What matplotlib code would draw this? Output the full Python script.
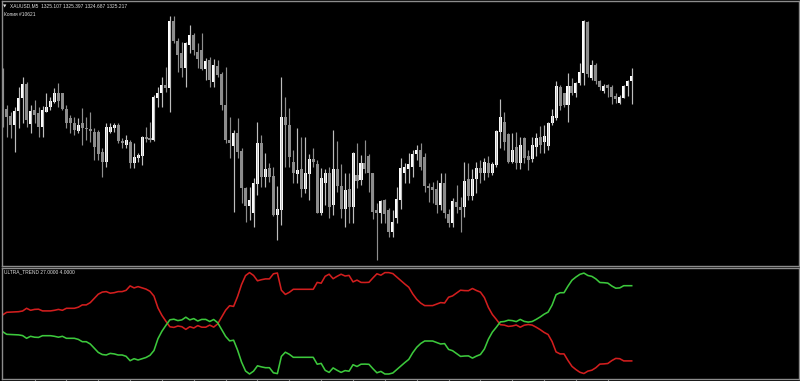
import numpy as np
import matplotlib
matplotlib.use("Agg")
import matplotlib.pyplot as plt

# ---- data (XAUUSD M5 candles) ----
opens = [1325.50, 1322.27, 1321.60, 1320.70, 1322.13, 1323.37, 1324.80, 1320.80, 1322.20, 1321.93,
         1320.47, 1322.03, 1322.47, 1323.03, 1323.87, 1323.87, 1322.27, 1321.37, 1320.87, 1320.13,
         1320.87, 1320.43, 1320.27, 1320.03, 1320.03, 1318.03, 1317.03, 1320.03, 1320.37, 1320.70,
         1319.10, 1318.70, 1319.03, 1316.93, 1317.37, 1317.60, 1319.53, 1319.37, 1319.20, 1323.37,
         1323.87, 1324.70, 1324.37, 1331.13, 1329.13, 1327.87, 1326.37, 1328.70, 1329.70, 1328.03,
         1328.20, 1326.27, 1327.20, 1325.03, 1326.60, 1325.80, 1322.70, 1319.20, 1318.60, 1319.93,
         1318.13, 1314.37, 1312.60, 1311.93, 1314.80, 1318.87, 1315.47, 1316.37, 1315.60, 1311.70,
         1312.20, 1321.53, 1320.70, 1317.03, 1315.80, 1316.27, 1314.27, 1315.80, 1317.27, 1316.80,
         1311.87, 1314.93, 1315.93, 1312.70, 1316.27, 1314.60, 1312.27, 1314.27, 1312.47, 1315.70,
         1315.20, 1316.93, 1317.60, 1315.87, 1312.20, 1311.87, 1313.20, 1312.20, 1310.03, 1311.37,
         1313.20, 1315.93, 1316.27, 1316.47, 1317.80, 1318.20, 1317.53, 1314.60, 1314.53, 1314.27,
         1312.70, 1314.93, 1311.80, 1310.87, 1313.03, 1312.53, 1312.53, 1315.27, 1313.60, 1315.27,
         1316.37, 1315.87, 1316.93, 1315.87, 1316.70, 1320.03, 1321.03, 1319.80, 1317.03, 1318.53,
         1316.93, 1319.37, 1317.60, 1317.27, 1318.53, 1319.53, 1319.03, 1318.60, 1320.87, 1321.37,
         1324.53, 1323.87, 1322.70, 1324.60, 1323.87, 1324.93, 1325.87, 1331.03, 1325.37, 1326.70,
         1325.13, 1324.13, 1324.70, 1324.53, 1323.60, 1322.87, 1323.37, 1324.60, 1325.13]

highs = [1326.40, 1322.70, 1322.03, 1322.53, 1324.47, 1325.53, 1325.03, 1322.70, 1323.20, 1322.53,
         1322.60, 1323.87, 1323.47, 1324.37, 1324.93, 1323.87, 1322.70, 1321.70, 1321.53, 1321.37,
         1322.37, 1321.53, 1322.03, 1320.37, 1320.20, 1318.37, 1320.87, 1320.93, 1320.87, 1320.87,
         1319.37, 1319.70, 1319.20, 1318.87, 1317.87, 1319.60, 1320.53, 1321.03, 1323.70, 1324.53,
         1325.53, 1326.53, 1331.60, 1331.60, 1329.37, 1329.03, 1329.03, 1330.70, 1329.87, 1328.87,
         1329.87, 1327.37, 1327.53, 1327.27, 1327.20, 1326.03, 1326.53, 1321.53, 1320.20, 1321.37,
         1318.37, 1314.53, 1314.53, 1315.37, 1321.03, 1319.70, 1317.93, 1316.93, 1316.53, 1314.60,
         1325.53, 1323.53, 1322.37, 1318.20, 1320.37, 1319.53, 1319.53, 1317.80, 1318.37, 1317.20,
         1316.37, 1316.27, 1316.53, 1320.20, 1319.13, 1316.80, 1315.93, 1315.87, 1318.03, 1318.87,
         1317.70, 1319.20, 1317.80, 1315.93, 1312.93, 1313.20, 1313.27, 1312.37, 1312.20, 1314.53,
         1317.37, 1316.93, 1317.93, 1318.20, 1318.70, 1318.87, 1317.87, 1314.87, 1315.03, 1315.20,
         1315.93, 1315.87, 1312.27, 1313.37, 1314.70, 1313.53, 1317.03, 1316.87, 1316.27, 1317.03,
         1317.20, 1317.37, 1317.60, 1317.03, 1320.20, 1323.27, 1322.03, 1319.87, 1319.93, 1320.03,
         1319.53, 1319.53, 1318.20, 1319.53, 1319.87, 1320.60, 1320.70, 1321.03, 1322.27, 1325.13,
         1324.70, 1323.87, 1325.93, 1325.37, 1325.03, 1326.87, 1331.20, 1331.13, 1327.20, 1326.87,
         1325.20, 1324.80, 1324.80, 1324.70, 1323.87, 1323.70, 1324.70, 1325.20, 1326.37]

lows = [1320.50, 1319.53, 1319.37, 1318.03, 1320.37, 1320.87, 1320.53, 1319.93, 1320.87, 1319.47,
        1319.47, 1322.03, 1322.20, 1322.87, 1322.53, 1322.20, 1320.37, 1319.87, 1319.70, 1319.87,
        1318.70, 1319.20, 1319.03, 1317.20, 1317.20, 1315.53, 1316.53, 1319.87, 1320.03, 1318.87,
        1318.37, 1318.37, 1316.37, 1316.37, 1317.03, 1316.70, 1319.03, 1319.03, 1319.13, 1322.53,
        1322.53, 1324.03, 1322.03, 1328.87, 1326.03, 1325.53, 1324.53, 1327.87, 1327.70, 1326.37,
        1326.20, 1325.20, 1324.47, 1324.53, 1325.53, 1322.20, 1318.87, 1317.37, 1312.03, 1317.37,
        1312.87, 1311.03, 1311.20, 1310.53, 1313.70, 1314.53, 1314.53, 1315.03, 1311.60, 1309.20,
        1310.70, 1316.53, 1316.53, 1314.87, 1314.87, 1313.53, 1313.87, 1313.20, 1316.53, 1311.87,
        1311.70, 1312.70, 1311.37, 1311.70, 1314.03, 1311.37, 1310.53, 1310.87, 1310.87, 1314.37,
        1314.70, 1315.93, 1314.03, 1311.27, 1307.20, 1310.87, 1310.87, 1309.53, 1309.53, 1310.87,
        1312.27, 1314.87, 1314.93, 1315.53, 1317.20, 1316.20, 1314.03, 1313.03, 1312.87, 1311.87,
        1312.20, 1311.37, 1310.53, 1310.53, 1311.87, 1310.03, 1311.53, 1313.20, 1313.20, 1313.93,
        1314.93, 1315.20, 1315.53, 1315.70, 1316.53, 1318.37, 1318.20, 1316.93, 1316.87, 1316.27,
        1316.27, 1316.87, 1316.20, 1317.03, 1317.60, 1317.87, 1317.87, 1318.20, 1320.70, 1321.20,
        1322.20, 1322.53, 1321.03, 1323.70, 1323.53, 1324.70, 1324.70, 1325.53, 1325.20, 1324.80,
        1324.20, 1323.87, 1323.47, 1322.80, 1322.87, 1322.80, 1323.37, 1323.60, 1322.80]

closes = [1322.20, 1321.53, 1320.70, 1322.13, 1323.37, 1324.80, 1321.20, 1322.13, 1321.70, 1320.47,
          1322.20, 1322.53, 1323.13, 1323.87, 1323.13, 1322.27, 1320.87, 1320.93, 1320.20, 1320.70,
          1320.37, 1320.27, 1320.13, 1318.53, 1317.80, 1317.03, 1320.53, 1320.53, 1320.70, 1319.13,
          1318.87, 1319.20, 1316.93, 1317.53, 1317.70, 1319.53, 1319.27, 1319.20, 1323.47, 1323.93,
          1324.70, 1324.37, 1331.13, 1329.13, 1327.70, 1326.37, 1328.87, 1329.70, 1328.20, 1327.27,
          1326.27, 1327.13, 1325.20, 1326.70, 1325.70, 1322.70, 1319.20, 1318.87, 1319.93, 1318.03,
          1314.37, 1312.60, 1313.20, 1314.93, 1318.87, 1315.53, 1316.27, 1315.53, 1311.70, 1312.27,
          1321.53, 1320.70, 1317.53, 1315.87, 1316.20, 1314.27, 1315.87, 1317.27, 1317.03, 1311.93,
          1315.37, 1315.93, 1312.53, 1316.27, 1314.60, 1312.27, 1314.20, 1312.47, 1317.93, 1315.13,
          1316.87, 1316.27, 1315.87, 1312.03, 1311.87, 1313.13, 1311.80, 1310.03, 1311.03, 1313.27,
          1316.37, 1316.53, 1316.80, 1317.80, 1318.20, 1316.53, 1314.60, 1314.37, 1314.20, 1312.70,
          1314.93, 1311.87, 1310.87, 1313.13, 1312.53, 1312.20, 1315.13, 1313.60, 1315.27, 1316.37,
          1315.87, 1317.03, 1315.93, 1316.80, 1320.13, 1321.53, 1319.03, 1317.03, 1318.20, 1316.93,
          1318.70, 1317.37, 1317.20, 1318.70, 1319.37, 1318.70, 1319.60, 1320.93, 1321.60, 1324.60,
          1322.60, 1322.70, 1324.60, 1323.87, 1324.93, 1326.03, 1331.13, 1325.80, 1326.70, 1325.13,
          1324.53, 1324.60, 1324.37, 1323.47, 1323.27, 1323.47, 1324.60, 1325.13, 1325.60]

# ULTRA_TREND indicator buffers (green = bulls, red = bears)
trend_green = [-8.4, -11.0, -11.2, -11.4, -11.6, -12.3, -15.0, -13.0, -13.9, -14.1,
               -12.4, -12.4, -12.4, -13.0, -13.9, -13.0, -15.0, -15.0, -15.0, -16.1,
               -18.4, -18.4, -20.7, -24.9, -29.1, -31.2, -31.7, -30.1, -30.6, -31.7,
               -31.7, -33.0, -37.4, -35.4, -36.7, -35.4, -34.2, -32.0, -27.2, -15.4,
               -7.9, -2.0, 3.5, 4.1, 2.7, 3.4, 6.1, 3.4, 4.7, 2.3,
               3.9, 3.9, 1.8, 3.8, 0.6, -6.2, -13.1, -17.6, -16.9, -26.8,
               -38.8, -47.7, -50.7, -47.9, -42.5, -43.6, -44.4, -44.4, -49.5, -50.3,
               -33.1, -28.9, -31.0, -34.0, -34.0, -34.0, -34.0, -34.0, -34.0, -40.9,
               -40.1, -47.0, -49.1, -44.6, -47.0, -49.1, -47.3, -47.9, -41.4, -43.2,
               -40.9, -40.8, -41.0, -45.4, -49.5, -48.1, -50.7, -50.7, -49.7, -46.2,
               -42.7, -39.3, -36.1, -29.4, -24.0, -20.2, -17.7, -17.7, -17.7, -19.2,
               -20.7, -20.3, -26.1, -27.4, -30.2, -33.1, -32.7, -32.6, -34.8, -32.8,
               -31.2, -25.7, -15.9, -8.8, -3.9, 1.4, 1.8, 3.1, 2.7, 1.7,
               3.9, 1.9, 1.2, 1.8, 3.9, 6.3, 9.1, 11.2, 18.2, 28.6,
               30.6, 30.6, 37.2, 43.1, 46.3, 49.0, 50.2, 47.8, 46.9, 44.4,
               40.8, 40.6, 40.2, 37.3, 35.1, 35.4, 37.6, 37.6, 37.6]

trend_red = [8.4, 11.0, 11.2, 11.4, 11.6, 12.3, 15.0, 13.0, 13.9, 14.1,
             12.4, 12.4, 12.4, 13.0, 13.9, 13.0, 15.0, 15.0, 15.0, 16.1,
             18.4, 18.4, 20.7, 24.9, 29.1, 31.2, 31.7, 30.1, 30.6, 31.7,
             31.7, 33.0, 37.4, 35.4, 36.7, 35.4, 34.2, 32.0, 27.2, 15.4,
             7.9, 2.0, -3.5, -4.1, -2.7, -3.4, -6.1, -3.4, -4.7, -2.3,
             -3.9, -3.9, -1.8, -3.8, -0.6, 6.2, 13.1, 17.6, 16.9, 26.8,
             38.8, 47.7, 50.7, 47.9, 42.5, 43.6, 44.4, 44.4, 49.5, 50.3,
             33.1, 28.9, 31.0, 34.0, 34.0, 34.0, 34.0, 34.0, 34.0, 40.9,
             40.1, 47.0, 49.1, 44.6, 47.0, 49.1, 47.3, 47.9, 41.4, 43.2,
             40.9, 40.8, 41.0, 45.4, 49.5, 48.1, 50.7, 50.7, 49.7, 46.2,
             42.7, 39.3, 36.1, 29.4, 24.0, 20.2, 17.7, 17.7, 17.7, 19.2,
             20.7, 20.3, 26.1, 27.4, 30.2, 33.1, 32.7, 32.6, 34.8, 32.8,
             31.2, 25.7, 15.9, 8.8, 3.9, -1.4, -1.8, -3.1, -2.7, -1.7,
             -3.9, -1.9, -1.2, -1.8, -3.9, -6.3, -9.1, -11.2, -18.2, -28.6,
             -30.6, -30.6, -37.2, -43.1, -46.3, -49.0, -50.2, -47.8, -46.9, -44.4,
             -40.8, -40.6, -40.2, -37.3, -35.1, -35.4, -37.6, -37.6, -37.6]

symbol_label = "XAUUSD,M5  1325.107 1325.397 1324.687 1325.217"
copy_label = "Копия #10621"
indicator_label = "ULTRA_TREND 27.0000 4.0000"

# ---- figure ----
W, H = 800, 381
fig = plt.figure(figsize=(W / 100, H / 100), dpi=100, facecolor="black")


def px_axes(x0, y0, x1, y1):
    return fig.add_axes([x0 / W, 1 - y1 / H, (x1 - x0) / W, (y1 - y0) / H])


ax1 = px_axes(2, 0.7, 798.5, 266)
ax2 = px_axes(2, 268, 798.5, 379)

frame_col = "#8c8c8c"
for ax in (ax1, ax2):
    ax.set_facecolor("black")
    for s in ax.spines.values():
        s.set_color(frame_col)
        s.set_linewidth(1.0)
    ax.set_yticks([])

n = len(opens)
x = np.arange(n)
o = np.array(opens)
h = np.array(highs)
l = np.array(lows)
c = np.array(closes)
bull = c >= o

bar_px = 3.981
width_px = 796.5
x_left = -0.7 / bar_px
for ax in (ax1, ax2):
    ax.set_xlim(x_left, x_left + width_px / bar_px)

# candles
wick_col = np.where(bull, "#bdbdbd", "#8e8e8e")
ax1.vlines(x, l, h, colors=list(wick_col), linewidth=0.85)
body_bottom = np.minimum(o, c)
body_h = np.maximum(np.abs(c - o), 0.12)
body_col = np.where(bull, "#ffffff", "#8c8c8c")
ax1.bar(x, body_h, bottom=body_bottom, width=0.76, color=list(body_col), linewidth=0)
ax1.set_ylim(1306.6, 1333.13)
ax1.set_xticks([])

# indicator
ax2.plot(x, trend_red, color="#d21e1e", linewidth=1.15)
ax2.plot(x, trend_green, color="#3cc83c", linewidth=1.15)
ax2.set_ylim(-55.7, 55.3)
ax2.set_xticks(np.arange(8, n + 1, 8))
ax2.tick_params(axis="x", direction="out", length=2, width=0.8, color=frame_col,
                labelbottom=False)

# labels
fam = ["Liberation Sans", "DejaVu Sans"]
txt_col = "#e0e0e0"
fig.text(3 / W, 1 - 6 / H, "\u25BC", color=txt_col, fontsize=3.2, family=["DejaVu Sans"],
         va="center", ha="left")
fig.text(10 / W, 1 - 6 / H, symbol_label, color=txt_col, fontsize=3.5, family=fam,
         va="center", ha="left")
fig.text(4 / W, 1 - 14.5 / H, copy_label, color=txt_col, fontsize=3.5, family=fam,
         va="center", ha="left")
fig.text(4 / W, 1 - 272 / H, indicator_label, color=txt_col, fontsize=3.5, family=fam,
         va="center", ha="left")

fig.savefig("out.png", dpi=100, facecolor="black")
